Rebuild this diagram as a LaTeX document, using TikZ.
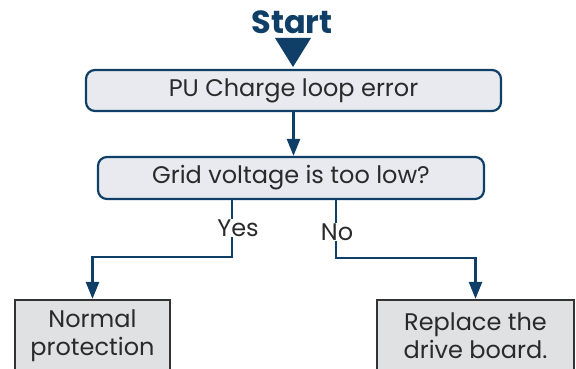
\documentclass[tikz,border=0pt]{standalone}
\usepackage{fontspec}
\setmainfont{Poppins}
\usetikzlibrary{arrows.meta}
\definecolor{flowblue}{HTML}{0F3E66}
\definecolor{boxfill}{HTML}{E8EAF0}
\definecolor{endfill}{HTML}{E0E1E3}
\definecolor{endline}{HTML}{333333}
\definecolor{txtgray}{HTML}{2A2A2A}

\begin{document}
\begin{tikzpicture}[x=1pt,y=-1pt,
    procbox/.style={draw=flowblue, line width=2.2pt, fill=boxfill, rounded corners=9pt,
        inner sep=0pt, text=txtgray, font=\fontsize{24}{28}\selectfont},
    endbox/.style={draw=endline, line width=2.2pt, fill=endfill, inner sep=0pt, align=center,
        text=txtgray, font=\fontsize{24}{28}\selectfont},
    flow/.style={draw=flowblue, line width=2.5pt, -{Triangle[length=17pt,width=13pt]}},
    branch/.style={fill=white, inner sep=1pt, text=txtgray, font=\fontsize{24}{28}\selectfont}]

    \useasboundingbox (0,0) rectangle (576,369);
    \clip (0,0) rectangle (576,369);

    % ================= TOP =================
    \node[text=flowblue, font=\bfseries\fontsize{32}{34}\selectfont] (start) at (292,22) {Start};
    \fill[flowblue] (275,38) -- (311,38) -- (293,67) -- cycle;

    \node[procbox, minimum width=415pt, minimum height=41pt] (pu) at (293.5,90.5) {PU Charge loop error};
    \node[procbox, minimum width=386pt, minimum height=42pt] (grid) at (291,178) {Grid voltage is too low?};

    \draw[flow] (pu.south) -- (pu.south |- grid.north);

    % ================= BRANCHES =================
    \node[endbox, minimum width=155pt, minimum height=72pt] (normal) at (92.5,336) {Normal\\protection};
    \node[endbox, minimum width=197pt, minimum height=72pt] (replace) at (475.5,336) {Replace the\\drive board.};

    \coordinate (yesturn) at (232,257);
    \coordinate (noturn) at (336,258);

    \draw[flow] (grid.south -| yesturn) -- (yesturn) -| (normal.north);
    \draw[flow] (grid.south -| noturn) -- (noturn) -| (replace.north);

    % Labels
    \node[branch] (yes) at (238,228) {Yes};
    \node[branch] (no) at (337,232) {No};

\end{tikzpicture}
\end{document}
